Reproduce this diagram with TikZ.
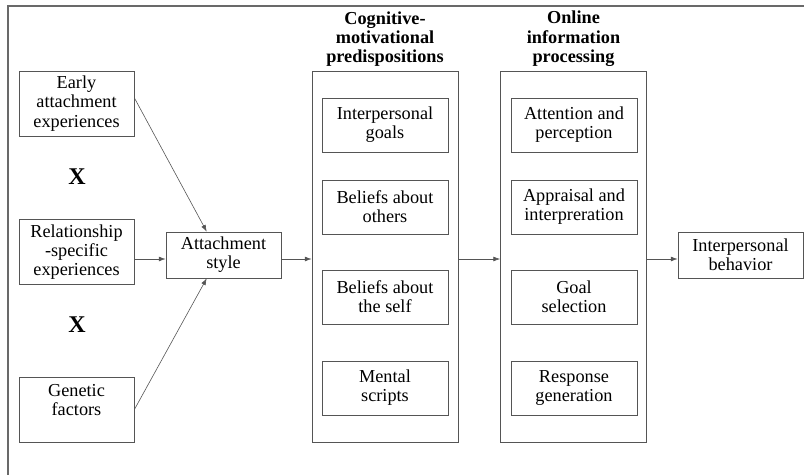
\documentclass[tikz,border=0pt]{standalone}
\usepackage{fontspec}
\setmainfont{Liberation Serif}
\usetikzlibrary{arrows.meta,positioning,calc}
\definecolor{framegray}{RGB}{105,105,105}
\definecolor{edgegray}{RGB}{85,85,85}
\tikzset{
  srcbox/.style={
    rectangle,
    draw=edgegray,
    line width=0.6pt,
    minimum width=86.25pt,
    minimum height=48.75pt,
    align=center,
    inner sep=1pt,
    font=\fontsize{13.7}{14.4}\selectfont
  },
  midbox/.style={
    srcbox,
    minimum height=34.5pt
  },
  stagebox/.style={
    rectangle,
    draw=edgegray,
    line width=0.6pt,
    minimum width=109.5pt,
    minimum height=278.25pt
  },
  itembox/.style={
    srcbox,
    minimum width=94.5pt,
    minimum height=40.5pt
  },
  stagehead/.style={
    align=center,
    inner sep=0pt,
    font=\fontsize{13.7}{14.4}\selectfont\bfseries
  },
  times/.style={font=\fontsize{18}{20}\selectfont\bfseries},
  flow/.style={-{Latex[length=5pt,width=3.6pt]}, line width=0.45pt, edgegray}
}

\begin{document}
\begin{tikzpicture}[x=0.75pt,y=-0.75pt]
\useasboundingbox (0,0) rectangle (804,475);
% frame
\draw[framegray, line width=0.8pt] (8,475) -- (8,6) -- (804,6);

% sources
\node[srcbox] (early) at (76.5,103.5) {Early\\attachment\\experiences};
\node[times] (x1) at (77,177) {X};
\node[srcbox] (rel) at (76.5,252) {Relationship\\-specific\\experiences};
\node[times] (x2) at (77,325) {X};
\node[srcbox] (gen) at (76.5,409.5) {Genetic\\factors\\\mbox{}};

\node[midbox] (attach) at (223.5,255) {Attachment\\style};

% predispositions
\node[stagebox] (cog) at (385,256.5) {};
\node[stagehead, above=3pt of cog] (coghead) {Cognitive-\\motivational\\predispositions};
\node[itembox] (goals) at (385,125) {Interpersonal\\goals};
\node[itembox] (others) at (385,207) {Beliefs about\\others};
\node[itembox] (self) at (385,297) {Beliefs about\\the self};
\node[itembox] (scripts) at (385,388) {Mental\\scripts};

% processing
\node[stagebox] (online) at (573.5,256.5) {};
\node[stagehead, above=3pt of online] (onlinehead) {Online\\information\\processing};
\node[itembox] (percep) at (574,125) {Attention and\\perception};
\node[itembox] (apprais) at (574,207) {Appraisal and\\interpreration};
\node[itembox] (goalsel) at (574,297) {Goal\\selection};
\node[itembox] (resp) at (574,388) {Response\\generation};

\node[midbox, minimum width=93.75pt] (behav) at (740.5,255) {Interpersonal\\behavior};

% connectors
\coordinate (row) at (0,259);
\draw[flow] ($(early.east)!0.17!(early.north east)$) -- ($(attach.north)!0.29!(attach.north west)$);
\draw[flow] (gen.east) -- ($(attach.south)!0.29!(attach.south west)$);
\draw[flow] (rel.east |- row) -- (attach.west |- row);
\draw[flow] (attach.east |- row) -- (cog.west |- row);
\draw[flow] (cog.east |- row) -- (online.west |- row);
\draw[flow] (online.east |- row) -- (behav.west |- row);
\end{tikzpicture}
\end{document}
